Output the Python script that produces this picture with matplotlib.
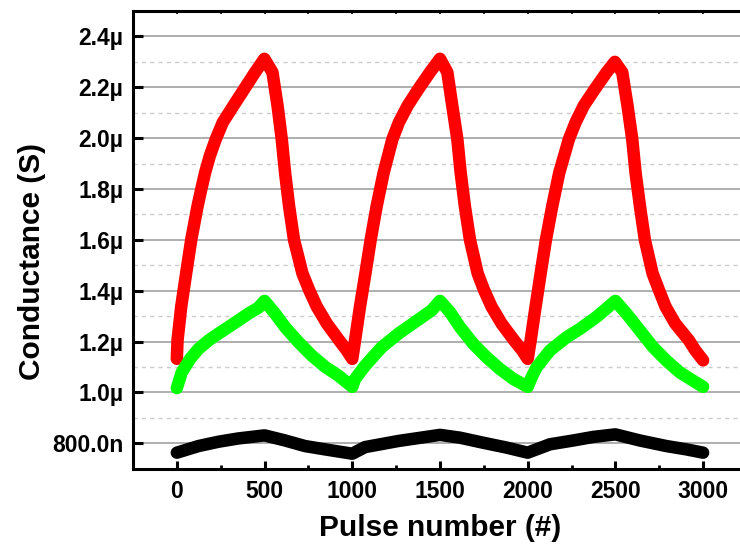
import matplotlib
matplotlib.use("Agg")
import matplotlib.pyplot as plt
from matplotlib.ticker import MultipleLocator

plt.rcParams["font.family"] = ["Liberation Sans", "DejaVu Sans"]
plt.rcParams["font.weight"] = "bold"

# values, conductance in µS
red_x = [0, 4, 25, 53, 82, 118, 139, 161, 188, 222, 262, 323, 384, 446, 499,
         545, 574, 598, 617, 640, 668, 716, 754, 798, 855, 925, 968, 1000,
         1016, 1044, 1075, 1105, 1139, 1179, 1229, 1266, 1316, 1377, 1443, 1500,
         1542, 1570, 1599, 1618, 1642, 1671, 1715, 1751, 1794, 1851, 1922, 1968, 2000,
         2017, 2045, 2074, 2104, 2140, 2180, 2235, 2273, 2320, 2383, 2450, 2497,
         2539, 2569, 2596, 2615, 2640, 2668, 2712, 2748, 2786, 2841, 2919, 2955, 3000]
red_y = [1.132, 1.205, 1.337, 1.468, 1.600, 1.732, 1.798, 1.864, 1.930, 1.996, 2.062, 2.128, 2.193, 2.259, 2.312,
         2.259, 2.128, 1.996, 1.864, 1.732, 1.600, 1.468, 1.403, 1.337, 1.271, 1.205, 1.166, 1.132,
         1.205, 1.337, 1.468, 1.600, 1.732, 1.864, 1.996, 2.062, 2.128, 2.193, 2.259, 2.312,
         2.259, 2.128, 1.996, 1.864, 1.732, 1.600, 1.468, 1.403, 1.337, 1.271, 1.205, 1.166, 1.132,
         1.205, 1.337, 1.468, 1.600, 1.732, 1.864, 1.996, 2.062, 2.128, 2.193, 2.259, 2.300,
         2.259, 2.128, 1.996, 1.864, 1.732, 1.600, 1.468, 1.403, 1.337, 1.271, 1.205, 1.166, 1.126]

green_x = [0, 28, 76, 123, 180, 237, 294, 351, 408, 465, 500,
           560, 617, 693, 769, 845, 921, 1000,
           1016, 1073, 1168, 1263, 1358, 1453, 1500,
           1557, 1614, 1690, 1766, 1842, 1918, 2000,
           2022, 2051, 2127, 2222, 2298, 2393, 2500,
           2563, 2639, 2715, 2791, 2867, 2943, 3000]
green_y = [1.017, 1.079, 1.132, 1.171, 1.204, 1.231, 1.257, 1.283, 1.310, 1.333, 1.360,
           1.310, 1.257, 1.198, 1.145, 1.101, 1.066, 1.022,
           1.053, 1.105, 1.178, 1.231, 1.277, 1.323, 1.360,
           1.316, 1.257, 1.191, 1.138, 1.092, 1.053, 1.022,
           1.059, 1.099, 1.165, 1.217, 1.250, 1.297, 1.360,
           1.310, 1.244, 1.178, 1.125, 1.079, 1.046, 1.022]

black_x = [0, 123, 237, 351, 500, 617, 731, 845, 1000,
           1073, 1263, 1500, 1614, 1747, 1880, 2000,
           2127, 2260, 2374, 2500, 2639, 2791, 2905, 3000]
black_y = [0.763, 0.789, 0.806, 0.819, 0.831, 0.811, 0.789, 0.776, 0.759,
           0.785, 0.809, 0.833, 0.822, 0.802, 0.783, 0.763,
           0.796, 0.811, 0.825, 0.835, 0.811, 0.789, 0.776, 0.763]

xticks = [0, 500, 1000, 1500, 2000, 2500, 3000]
yticks = [0.8, 1.0, 1.2, 1.4, 1.6, 1.8, 2.0, 2.2, 2.4]
ytick_labels = ["800.0n", "1.0µ", "1.2µ", "1.4µ", "1.6µ", "1.8µ", "2.0µ", "2.2µ", "2.4µ"]
yminor = [0.9, 1.1, 1.3, 1.5, 1.7, 1.9, 2.1, 2.3]


def to_siemens(vals):
    return [v * 1e-6 for v in vals]


fig = plt.figure(figsize=(7.4, 5.52), dpi=100)
ax = fig.add_axes([0.1797, 0.1509, 0.8297, 0.8292])

line_kw = dict(lw=9, solid_capstyle="round", solid_joinstyle="round", zorder=3)
ax.plot(red_x, to_siemens(red_y), color="#ff0000", **line_kw)
ax.plot(green_x, to_siemens(green_y), color="#00ff00", **line_kw)
ax.plot(black_x, to_siemens(black_y), color="#000000", **line_kw)

ax.set_xlim(-250, 3250)
ax.set_ylim(0.7e-6, 2.5e-6)

ax.set_xticks(xticks)
ax.xaxis.set_minor_locator(MultipleLocator(250))
ax.set_yticks(to_siemens(yticks))
ax.set_yticklabels(ytick_labels)
ax.set_yticks(to_siemens(yminor), minor=True)

ax.set_axisbelow(True)
ax.grid(which="major", axis="y", color="#999999", lw=1.1)
ax.grid(which="minor", axis="y", color="#cccccc", lw=1.0, ls=(0, (3, 3)))

ax.tick_params(axis="x", which="major", direction="in", length=6, width=2.2,
               labelsize=16.5, pad=8)
ax.tick_params(axis="x", which="minor", direction="in", length=3, width=2.0)
ax.tick_params(axis="y", which="major", direction="in", length=7, width=2.2,
               labelsize=16.5, pad=7)
ax.tick_params(axis="y", which="minor", length=0)

for side in ["left", "bottom"]:
    ax.spines[side].set_linewidth(2.2)
ax.spines["right"].set_visible(False)
ax.spines["top"].set_visible(False)

# top axis: small inward ticks every 250 pulses, no labels
top = ax.secondary_xaxis("top")
top.set_xticks(list(range(0, 3001, 250)))
top.set_xticklabels([])
top.tick_params(direction="in", length=2.5, width=1.2)
top.spines["top"].set_linewidth(2.2)

ax.set_ylabel("Conductance (S)", fontsize=21.5, fontweight="bold")
ax.yaxis.set_label_coords(-0.142, 0.452)
ax.set_xlabel("Pulse number (#)", fontsize=21.5, fontweight="bold")
ax.xaxis.set_label_coords(0.5, -0.1)

fig.savefig("out.png", dpi=100)
